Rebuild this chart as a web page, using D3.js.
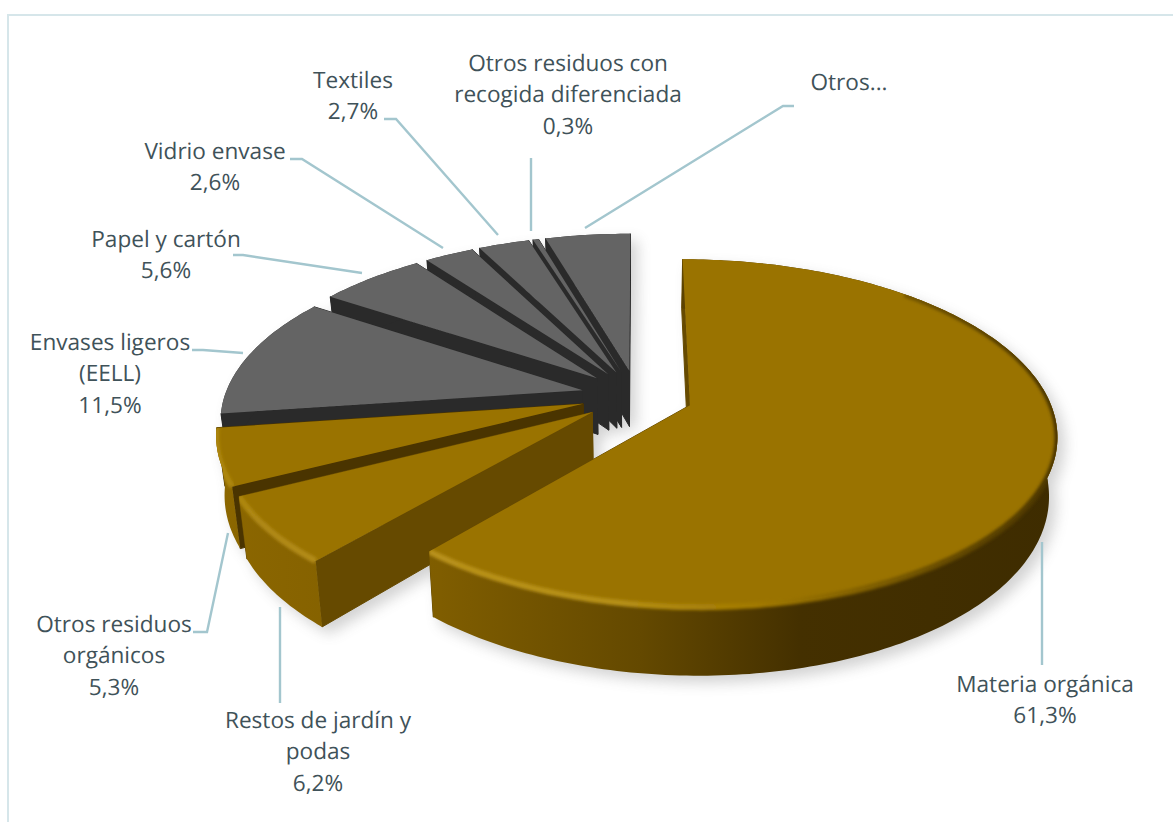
<!DOCTYPE html>
<html>
<head>
<meta charset="utf-8">
<script src="https://cdn.jsdelivr.net/npm/d3@7"></script>
<style>
  html, body { margin: 0; padding: 0; background: #fff; }
  svg { display: block; }
  text { font-family: "Open Sans", sans-serif; font-size: 22.6px; fill: #3f5259; text-anchor: middle; text-rendering: geometricPrecision; }
</style>
</head>
<body>
<svg width="1173" height="822"></svg>
<script>
var categories = ["Materia orgánica", "Restos de jardín y podas", "Otros residuos orgánicos",
  "Envases ligeros (EELL)", "Papel y cartón", "Vidrio envase", "Textiles",
  "Otros residuos con recogida diferenciada", "Otros..."];
var values = [61.3, 6.2, 5.3, 11.5, 5.6, 2.6, 2.7, 0.3, 4.5];
var groups = ["organic", "organic", "organic", "other", "other", "other", "other", "other", "other"];

// label text, one row per line
var labelRows = [
  ["Materia orgánica", "61,3%"],
  ["Restos de jardín y", "podas", "6,2%"],
  ["Otros residuos", "orgánicos", "5,3%"],
  ["Envases ligeros", "(EELL)", "11,5%"],
  ["Papel y cartón", "5,6%"],
  ["Vidrio envase", "2,6%"],
  ["Textiles", "2,7%"],
  ["Otros residuos con", "recogida diferenciada", "0,3%"],
  ["Otros..."]
];
var labelPos = [[1045, 684], [318, 720], [114, 624], [110, 342], [166, 239], [215, 151], [353, 80], [568, 63], [849, 82]];
var leaders = [
  [[1042, 542], [1042, 665]],
  [[280, 607], [280, 703]],
  [[193, 632], [207, 632], [228, 533]],
  [[192, 350], [203, 350], [243, 353]],
  [[233, 255], [243, 255], [362, 273]],
  [[290, 159], [302, 159], [443, 248]],
  [[384, 119], [396, 119], [498, 235]],
  [[531, 158], [531, 231]],
  [[794, 106], [783, 106], [585, 228]]
];

var svg = d3.select("svg");

// perspective pie settings
var cx = 637, cy = 396, R = 358, explode = 56,
    tilt = 0.465, persp = 0.16, depth = 57, shrink = 0.02;

function project(px, py, z) {
  var s = 1 / (1 - persp * py / R),
      k = 1 - shrink * z / depth;
  return [cx + px * s * k, cy + tilt * py * s + z * s];
}

var pie = d3.pie().sort(null).startAngle(0).endAngle(2 * Math.PI);
var slices = pie(values);
var line = d3.line();

// point on a slice, r as share of radius
function pt(d, angle, r, z) {
  var mid = (d.startAngle + d.endAngle) / 2,
      ox = explode * Math.sin(mid),
      oy = -explode * Math.cos(mid);
  return project(ox + r * R * Math.sin(angle), oy - r * R * Math.cos(angle), z);
}

function arcPoints(d, a0, a1, r, z) {
  var n = Math.max(2, Math.ceil((a1 - a0) * 60));
  return d3.range(n + 1).map(function(i) { return pt(d, a0 + (a1 - a0) * i / n, r, z); });
}

function topPath(d) {
  return line([pt(d, 0, 0, 0)].concat(arcPoints(d, d.startAngle, d.endAngle, 1, 0))) + "Z";
}
function rimPath(d) {
  var a = arcPoints(d, d.startAngle, d.endAngle, 1, 0),
      b = arcPoints(d, d.startAngle, d.endAngle, 1, depth).reverse();
  return line(a.concat(b)) + "Z";
}
function wallPath(d, angle) {
  return line([pt(d, angle, 0, 0), pt(d, angle, 1, 0), pt(d, angle, 1, depth), pt(d, angle, 0, depth)]) + "Z";
}

var defs = svg.append("defs");
defs.append("filter").attr("id", "soft").attr("x", "-10%").attr("y", "-10%").attr("width", "120%").attr("height", "120%")
  .append("feGaussianBlur").attr("stdDeviation", 7);
defs.append("filter").attr("id", "bevelBlur").attr("x", "-10%").attr("y", "-10%").attr("width", "120%").attr("height", "120%")
  .append("feGaussianBlur").attr("stdDeviation", 1.8);

function gradient(id, stops) {
  var g = defs.append("linearGradient").attr("id", id).attr("gradientUnits", "userSpaceOnUse")
    .attr("x1", 215).attr("x2", 1060).attr("y1", 0).attr("y2", 0);
  stops.forEach(function(s) {
    g.append("stop").attr("offset", (s[0] - 215) / 845).attr("stop-color", s[1]);
  });
}
gradient("rimGold", [[215, "#8c6700"], [440, "#7f5d00"], [640, "#644900"], [800, "#443000"], [1060, "#3e2c00"]]);
gradient("bevelGold", [[215, "#ad8610"], [440, "#b8911a"], [620, "#b58f14"], [760, "#a07800"], [880, "#7c5c00"], [980, "#5c4300"], [1060, "#4a3500"]]);

var topColor = { organic: "#9a7300", other: "#646464" },
    wallColor = { organic: "#664a00", other: "#2a2a2a" };

// frame of the original picture
svg.append("path").attr("d", line([[8, 822], [8, 15], [1173, 15]]))
  .attr("fill", "none").attr("stroke", "#d6e6ea").attr("stroke-width", 2);

// soft shadow under everything
var shadow = svg.append("g").attr("filter", "url(#soft)").attr("transform", "translate(7,7)").attr("opacity", 0.26);
slices.forEach(function(d) {
  shadow.append("path").attr("d", rimPath(d)).attr("fill", "#555");
  shadow.append("path").attr("d", wallPath(d, d.startAngle)).attr("fill", "#555");
  shadow.append("path").attr("d", wallPath(d, d.endAngle)).attr("fill", "#555");
  shadow.append("path").attr("d", topPath(d)).attr("fill", "#555");
});

// back slices first, Materia goes last
var order = [8, 7, 6, 5, 4, 3, 2, 1, 0];
order.forEach(function(i) {
  var d = slices[i],
      grp = groups[i],
      g = svg.append("g").attr("class", "slice").attr("data-name", categories[i]);
  var wall = i === 2 ? "#4a3400" : wallColor[grp];

  g.append("path").attr("d", wallPath(d, d.endAngle)).attr("fill", wall).attr("stroke", wall).attr("stroke-linejoin", "round");
  g.append("path").attr("d", wallPath(d, d.startAngle)).attr("fill", wall).attr("stroke", wall).attr("stroke-linejoin", "round");
  g.append("path").attr("d", rimPath(d))
    .attr("fill", grp === "organic" ? "url(#rimGold)" : wallColor[grp]);
  g.append("path").attr("d", topPath(d)).attr("fill", topColor[grp]);

  // bevel along the front of the rim, kept inside the slice
  if (grp === "organic") {
    var clip = defs.append("clipPath").attr("id", "clip" + i);
    clip.append("path").attr("d", topPath(d));
    clip.append("path").attr("d", rimPath(d));
    var a0 = Math.max(d.startAngle, 0.75);
    g.append("g").attr("clip-path", "url(#clip" + i + ")")
      .append("path").attr("d", line(arcPoints(d, a0, d.endAngle, 1, 0)))
      .attr("fill", "none").attr("stroke", "url(#bevelGold)").attr("stroke-width", 6)
      .attr("filter", "url(#bevelBlur)");
  }
});

// leader lines and labels
svg.append("g").selectAll("path").data(leaders).join("path")
  .attr("d", function(d) { return line(d); })
  .attr("fill", "none").attr("stroke", "#a3c6ce").attr("stroke-width", 2.4);

var lineStep = 31.6;
var labels = svg.append("g").selectAll("text").data(labelRows).join("text")
  .attr("transform", function(d, i) { return "translate(" + labelPos[i][0] + "," + (labelPos[i][1] + 7.5) + ")"; });
labels.selectAll("tspan").data(function(d) { return d; }).join("tspan")
  .attr("x", 0)
  .attr("y", function(d, i) { return i * lineStep; })
  .text(function(d) { return d; });
</script>
</body>
</html>
